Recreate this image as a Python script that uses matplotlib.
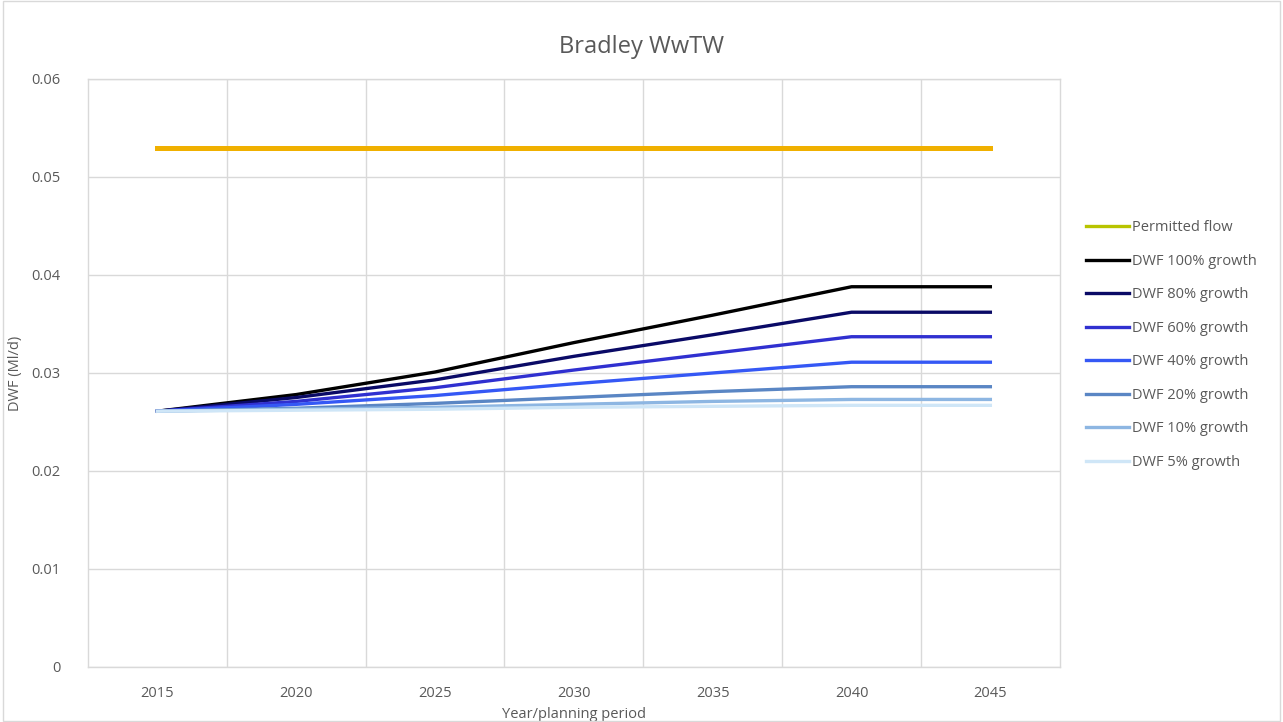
import matplotlib
matplotlib.use("Agg")
import matplotlib.pyplot as plt
from matplotlib.patches import Rectangle

years = [2015, 2020, 2025, 2030, 2035, 2040, 2045]
permitted_flow = [0.053, 0.053, 0.053, 0.053, 0.053, 0.053, 0.053]
dwf_100 = [0.0261, 0.0278, 0.0301, 0.0331, 0.0359, 0.0388, 0.0388]
dwf_80 = [0.0261, 0.0275, 0.0293, 0.0317, 0.0339, 0.0362, 0.0362]
dwf_60 = [0.0261, 0.0271, 0.0285, 0.0303, 0.0320, 0.0337, 0.0337]
dwf_40 = [0.0261, 0.0268, 0.0277, 0.0289, 0.0300, 0.0311, 0.0311]
dwf_20 = [0.0261, 0.0264, 0.0269, 0.0275, 0.0281, 0.0286, 0.0286]
dwf_10 = [0.0261, 0.0263, 0.0265, 0.0268, 0.0271, 0.0273, 0.0273]
dwf_5 = [0.0261, 0.0262, 0.0263, 0.0265, 0.0266, 0.0267, 0.0267]

series_labels = ["DWF 100% growth", "DWF 80% growth", "DWF 60% growth",
                 "DWF 40% growth", "DWF 20% growth", "DWF 10% growth",
                 "DWF 5% growth"]
series_values = [dwf_100, dwf_80, dwf_60, dwf_40, dwf_20, dwf_10, dwf_5]
series_colors = ["#000000", "#0A0A66", "#3030D0", "#3558F5", "#5A86C4",
                 "#8DB6E2", "#CFE6F7"]

plt.rcParams['font.family'] = ['Open Sans', 'DejaVu Sans']
text_color = "#595959"

fig = plt.figure(figsize=(12.83, 7.22), dpi=100)
fig.patches.append(Rectangle((0.002, 0.002), 0.996, 0.996, transform=fig.transFigure,
                             fill=False, edgecolor="#D9D9D9", linewidth=1))
ax = fig.add_axes([0.0686, 0.0762, 0.7574, 0.8144])

x = list(range(len(years)))
ax.plot(x, permitted_flow, color="#B8C400", lw=2.4, label="Permitted flow", zorder=3)
ax.plot(x, permitted_flow, color="#F0B000", lw=3.6, zorder=4)
for vals, lab, col in zip(series_values, series_labels, series_colors):
    ax.plot(x, vals, color=col, lw=2.4, label=lab, zorder=5)

ax.set_xlim(-0.5, len(years) - 0.5)
ax.set_ylim(0, 0.06)
ax.set_xticks(x)
ax.set_xticklabels([str(y) for y in years])
ax.set_yticks([0, 0.01, 0.02, 0.03, 0.04, 0.05, 0.06])
ax.set_yticklabels(["0", "0.01", "0.02", "0.03", "0.04", "0.05", "0.06"])
ax.set_xticks([i + 0.5 for i in range(len(years) - 1)], minor=True)
ax.grid(True, which="minor", axis="x", color="#D9D9D9", lw=1)
ax.grid(True, which="major", axis="y", color="#D9D9D9", lw=1)
ax.tick_params(which="both", length=0, colors=text_color, labelsize=10.5)
ax.tick_params(axis="x", pad=14)
ax.tick_params(axis="y", pad=20)
for s in ax.spines.values():
    s.set_color("#D9D9D9")
    s.set_linewidth(1)

fig.text(0.5, 0.935, "Bradley WwTW", fontsize=17, color=text_color,
         ha="center", va="center")
ax.set_xlabel("Year/planning period", fontsize=10.5, color=text_color, labelpad=4)
ax.set_ylabel("DWF (Ml/d)", fontsize=10.5, color=text_color, labelpad=6)

handles, labels = ax.get_legend_handles_labels()
leg = fig.legend(handles, labels, loc="upper left", bbox_to_anchor=(0.836, 0.713),
                 frameon=False, fontsize=10.5, labelcolor=text_color,
                 handlelength=3.0, handletextpad=0.2, labelspacing=1.27)

fig.savefig("out.png", dpi=100)
